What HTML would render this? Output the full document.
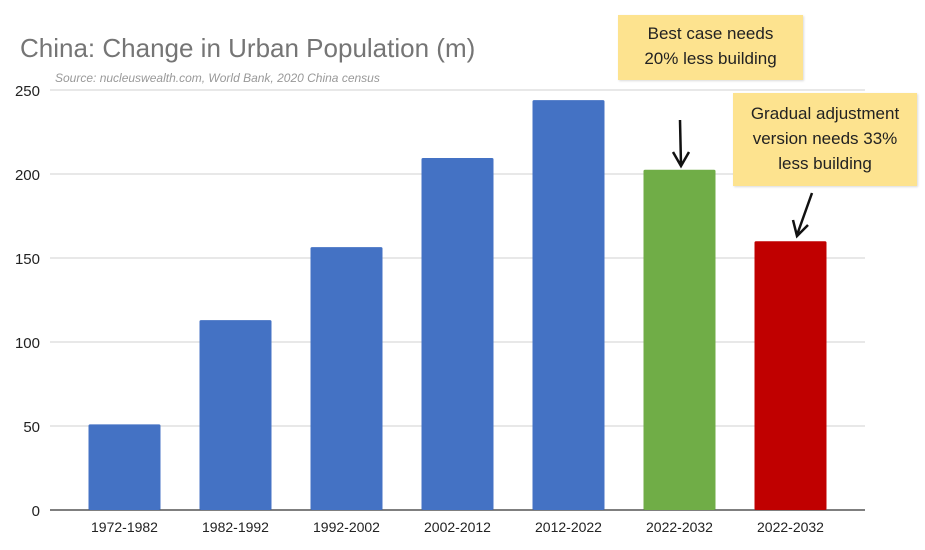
<!DOCTYPE html>
<html><head><meta charset="utf-8"><style>
body{margin:0;background:#fff;width:925px;height:550px;overflow:hidden;font-family:"Liberation Sans",sans-serif}
.note{position:absolute;background:#fde38f;font-family:"Liberation Sans",sans-serif;font-size:17px;color:#222;text-align:center;line-height:25px;box-shadow:1px 1px 2px rgba(0,0,0,.15)}
</style></head><body>
<svg id="chart" width="925" height="550" style="position:absolute;left:0;top:0">
<text x="20" y="57" font-size="26" fill="#757575" font-family="Liberation Sans, sans-serif">China: Change in Urban Population (m)</text>
<text x="55" y="82" font-size="12" font-style="italic" fill="#999">Source: nucleuswealth.com, World Bank, 2020 China census</text>
<g id="grid"></g><g id="bars"></g><g id="xl"></g>
</svg>
<div class="note" style="left:618px;top:15px;width:185px;height:65px;padding-top:6px;box-sizing:border-box">Best case needs<br>20% less building</div>
<div class="note" style="left:733px;top:93px;width:184px;height:93px;padding-top:8px;box-sizing:border-box">Gradual adjustment<br>version needs 33%<br>less building</div>
<svg width="925" height="550" style="position:absolute;left:0;top:0">
<path d="M680 120 L681 165 M673 152 L681 166 L689 152" stroke="#111" stroke-width="2.5" fill="none"/>
<path d="M812 193 L797 235 M793 220 L797 236 L808 225" stroke="#111" stroke-width="2.5" fill="none"/>
</svg>
<script>
const categories=["1972-1982","1982-1992","1992-2002","2002-2012","2012-2022","2022-2032","2022-2032"];
const values=[51,113,156.5,209.5,244,202.5,160];
const colors=["#4472c4","#4472c4","#4472c4","#4472c4","#4472c4","#70ad47","#c00000"];
const yTicks=[0,50,100,150,200,250];
const NS="http://www.w3.org/2000/svg";
const y0=510,ppu=1.68,left=69,band=111,bw=72;
const y=v=>y0-v*ppu, xc=i=>left+band*i+band/2;
function mk(t,a,p){const e=document.createElementNS(NS,t);for(const k in a)e.setAttribute(k,a[k]);document.getElementById(p).appendChild(e);return e;}
yTicks.forEach(t=>{
 const l=mk("line",{x1:50,x2:865,y1:y(t),y2:y(t),stroke:t===0?"#333":"#d0d0d0","stroke-width":t===0?1.2:1},"grid");
 
 
 const tx=mk("text",{x:40,y:y(t)+6,"font-size":15,"text-anchor":"end",fill:"#222"},"grid");
 tx.textContent=t;
 
 
});
values.forEach((v,i)=>{
 const r=mk("rect",{x:xc(i)-bw/2,y:y(v),width:bw,height:v*ppu,fill:colors[i],rx:1.5},"bars");
 
 
 const tx=mk("text",{x:xc(i),y:532,"font-size":14,"text-anchor":"middle",fill:"#222"},"xl");
 tx.textContent=categories[i];
 
 
});
</script>
</body></html>
